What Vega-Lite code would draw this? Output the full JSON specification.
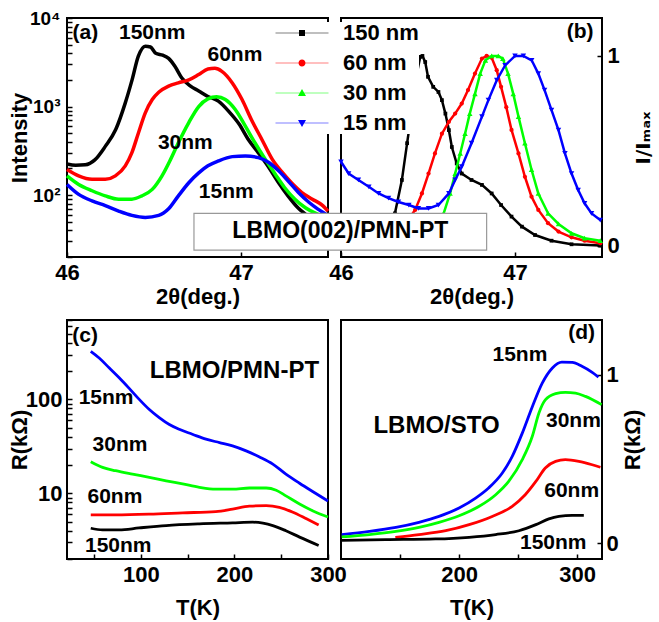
{
  "$schema": "https://vega.github.io/schema/vega-lite/v6.json",
  "background": "white",
  "autosize": {"type": "pad"},
  "padding": {"left": 7, "top": 8, "right": 0, "bottom": 2},
  "datasets": {
    "a": [
      {"s":"150 nm","x":46.0,"y":225},{"s":"150 nm","x":46.05,"y":218},{"s":"150 nm","x":46.105,"y":220},{"s":"150 nm","x":46.16,"y":250},{"s":"150 nm","x":46.22,"y":355},{"s":"150 nm","x":46.28,"y":550},{"s":"150 nm","x":46.335,"y":1100},{"s":"150 nm","x":46.374,"y":2000},{"s":"150 nm","x":46.41,"y":3700},{"s":"150 nm","x":46.45,"y":4800},{"s":"150 nm","x":46.48,"y":4700},{"s":"150 nm","x":46.51,"y":4000},{"s":"150 nm","x":46.55,"y":3800},{"s":"150 nm","x":46.584,"y":3500},{"s":"150 nm","x":46.62,"y":2850},{"s":"150 nm","x":46.66,"y":2100},{"s":"150 nm","x":46.71,"y":1700},{"s":"150 nm","x":46.757,"y":1500},{"s":"150 nm","x":46.81,"y":1300},{"s":"150 nm","x":46.87,"y":1150},{"s":"150 nm","x":46.93,"y":880},{"s":"150 nm","x":46.99,"y":630},{"s":"150 nm","x":47.04,"y":430},{"s":"150 nm","x":47.1,"y":300},{"s":"150 nm","x":47.16,"y":205},{"s":"150 nm","x":47.216,"y":138},{"s":"150 nm","x":47.27,"y":98},{"s":"150 nm","x":47.33,"y":71},{"s":"150 nm","x":47.37,"y":61},{"s":"150 nm","x":47.43,"y":49},{"s":"150 nm","x":47.5,"y":38},
      {"s":"60 nm","x":46.0,"y":195},{"s":"60 nm","x":46.067,"y":165},{"s":"60 nm","x":46.144,"y":151},{"s":"60 nm","x":46.22,"y":151},{"s":"60 nm","x":46.278,"y":165},{"s":"60 nm","x":46.335,"y":214},{"s":"60 nm","x":46.373,"y":302},{"s":"60 nm","x":46.41,"y":500},{"s":"60 nm","x":46.45,"y":850},{"s":"60 nm","x":46.49,"y":1200},{"s":"60 nm","x":46.527,"y":1450},{"s":"60 nm","x":46.584,"y":1700},{"s":"60 nm","x":46.64,"y":1850},{"s":"60 nm","x":46.7,"y":2000},{"s":"60 nm","x":46.757,"y":2300},{"s":"60 nm","x":46.81,"y":2650},{"s":"60 nm","x":46.85,"y":2700},{"s":"60 nm","x":46.89,"y":2500},{"s":"60 nm","x":46.95,"y":1850},{"s":"60 nm","x":47.006,"y":1200},{"s":"60 nm","x":47.06,"y":710},{"s":"60 nm","x":47.12,"y":425},{"s":"60 nm","x":47.18,"y":253},{"s":"60 nm","x":47.24,"y":178},{"s":"60 nm","x":47.29,"y":138},{"s":"60 nm","x":47.35,"y":107},{"s":"60 nm","x":47.41,"y":90},{"s":"60 nm","x":47.47,"y":76},{"s":"60 nm","x":47.5,"y":66},
      {"s":"30 nm","x":46.0,"y":165},{"s":"30 nm","x":46.067,"y":132},{"s":"30 nm","x":46.144,"y":112},{"s":"30 nm","x":46.22,"y":98},{"s":"30 nm","x":46.297,"y":90},{"s":"30 nm","x":46.373,"y":90},{"s":"30 nm","x":46.43,"y":98},{"s":"30 nm","x":46.49,"y":116},{"s":"30 nm","x":46.546,"y":165},{"s":"30 nm","x":46.594,"y":250},{"s":"30 nm","x":46.64,"y":390},{"s":"30 nm","x":46.7,"y":660},{"s":"30 nm","x":46.757,"y":1000},{"s":"30 nm","x":46.81,"y":1220},{"s":"30 nm","x":46.86,"y":1290},{"s":"30 nm","x":46.91,"y":1200},{"s":"30 nm","x":46.967,"y":925},{"s":"30 nm","x":47.025,"y":600},{"s":"30 nm","x":47.08,"y":390},{"s":"30 nm","x":47.14,"y":253},{"s":"30 nm","x":47.197,"y":172},{"s":"30 nm","x":47.25,"y":122},{"s":"30 nm","x":47.31,"y":90},{"s":"30 nm","x":47.37,"y":72},{"s":"30 nm","x":47.44,"y":61},{"s":"30 nm","x":47.5,"y":54},
      {"s":"15 nm","x":46.0,"y":132},{"s":"15 nm","x":46.067,"y":102},{"s":"15 nm","x":46.144,"y":86},{"s":"15 nm","x":46.22,"y":76},{"s":"15 nm","x":46.297,"y":66},{"s":"15 nm","x":46.373,"y":59},{"s":"15 nm","x":46.45,"y":56},{"s":"15 nm","x":46.527,"y":59},{"s":"15 nm","x":46.584,"y":70},{"s":"15 nm","x":46.64,"y":98},{"s":"15 nm","x":46.7,"y":138},{"s":"15 nm","x":46.757,"y":178},{"s":"15 nm","x":46.81,"y":214},{"s":"15 nm","x":46.87,"y":243},{"s":"15 nm","x":46.95,"y":272},{"s":"15 nm","x":47.025,"y":277},{"s":"15 nm","x":47.1,"y":265},{"s":"15 nm","x":47.16,"y":233},{"s":"15 nm","x":47.216,"y":188},{"s":"15 nm","x":47.27,"y":145},{"s":"15 nm","x":47.33,"y":107},{"s":"15 nm","x":47.39,"y":83},{"s":"15 nm","x":47.44,"y":70},{"s":"15 nm","x":47.5,"y":59}
    ],
    "b": [
      {"s":"150 nm","x":46.0,"y":0.03},{"s":"150 nm","x":46.2,"y":0.04},{"s":"150 nm","x":46.27,"y":0.09},{"s":"150 nm","x":46.31,"y":0.17},{"s":"150 nm","x":46.35,"y":0.346},{"s":"150 nm","x":46.38,"y":0.54},{"s":"150 nm","x":46.41,"y":0.73},{"s":"150 nm","x":46.436,"y":0.907},{"s":"150 nm","x":46.455,"y":0.995},{"s":"150 nm","x":46.468,"y":1.0},{"s":"150 nm","x":46.484,"y":0.968},{"s":"150 nm","x":46.5,"y":0.89},{"s":"150 nm","x":46.53,"y":0.837},{"s":"150 nm","x":46.56,"y":0.81},{"s":"150 nm","x":46.58,"y":0.767},{"s":"150 nm","x":46.6,"y":0.696},{"s":"150 nm","x":46.62,"y":0.609},{"s":"150 nm","x":46.637,"y":0.52},{"s":"150 nm","x":46.665,"y":0.433},{"s":"150 nm","x":46.694,"y":0.38},{"s":"150 nm","x":46.75,"y":0.346},{"s":"150 nm","x":46.81,"y":0.32},{"s":"150 nm","x":46.866,"y":0.275},{"s":"150 nm","x":46.92,"y":0.214},{"s":"150 nm","x":46.98,"y":0.153},{"s":"150 nm","x":47.04,"y":0.1},{"s":"150 nm","x":47.115,"y":0.056},{"s":"150 nm","x":47.21,"y":0.026},{"s":"150 nm","x":47.325,"y":0.007},{"s":"150 nm","x":47.49,"y":0.0},
      {"s":"60 nm","x":46.0,"y":0.06},{"s":"60 nm","x":46.2,"y":0.05},{"s":"60 nm","x":46.35,"y":0.09},{"s":"60 nm","x":46.426,"y":0.188},{"s":"60 nm","x":46.465,"y":0.275},{"s":"60 nm","x":46.503,"y":0.38},{"s":"60 nm","x":46.54,"y":0.486},{"s":"60 nm","x":46.58,"y":0.59},{"s":"60 nm","x":46.62,"y":0.653},{"s":"60 nm","x":46.656,"y":0.696},{"s":"60 nm","x":46.694,"y":0.749},{"s":"60 nm","x":46.73,"y":0.82},{"s":"60 nm","x":46.77,"y":0.907},{"s":"60 nm","x":46.81,"y":0.986},{"s":"60 nm","x":46.837,"y":1.0},{"s":"60 nm","x":46.866,"y":0.99},{"s":"60 nm","x":46.895,"y":0.925},{"s":"60 nm","x":46.92,"y":0.837},{"s":"60 nm","x":46.95,"y":0.73},{"s":"60 nm","x":46.98,"y":0.61},{"s":"60 nm","x":47.02,"y":0.486},{"s":"60 nm","x":47.057,"y":0.363},{"s":"60 nm","x":47.095,"y":0.258},{"s":"60 nm","x":47.134,"y":0.188},{"s":"60 nm","x":47.19,"y":0.118},{"s":"60 nm","x":47.25,"y":0.074},{"s":"60 nm","x":47.325,"y":0.044},{"s":"60 nm","x":47.4,"y":0.026},{"s":"60 nm","x":47.49,"y":0.012},
      {"s":"30 nm","x":46.0,"y":0.05},{"s":"30 nm","x":46.3,"y":0.03},{"s":"30 nm","x":46.5,"y":0.07},{"s":"30 nm","x":46.59,"y":0.17},{"s":"30 nm","x":46.627,"y":0.275},{"s":"30 nm","x":46.656,"y":0.38},{"s":"30 nm","x":46.685,"y":0.486},{"s":"30 nm","x":46.713,"y":0.59},{"s":"30 nm","x":46.74,"y":0.696},{"s":"30 nm","x":46.77,"y":0.8},{"s":"30 nm","x":46.8,"y":0.907},{"s":"30 nm","x":46.83,"y":0.977},{"s":"30 nm","x":46.866,"y":1.0},{"s":"30 nm","x":46.904,"y":1.0},{"s":"30 nm","x":46.93,"y":0.986},{"s":"30 nm","x":46.96,"y":0.907},{"s":"30 nm","x":46.99,"y":0.8},{"s":"30 nm","x":47.02,"y":0.68},{"s":"30 nm","x":47.057,"y":0.54},{"s":"30 nm","x":47.095,"y":0.4},{"s":"30 nm","x":47.134,"y":0.275},{"s":"30 nm","x":47.19,"y":0.17},{"s":"30 nm","x":47.25,"y":0.114},{"s":"30 nm","x":47.325,"y":0.065},{"s":"30 nm","x":47.4,"y":0.039},{"s":"30 nm","x":47.49,"y":0.026},
      {"s":"15 nm","x":46.0,"y":0.442},{"s":"15 nm","x":46.044,"y":0.38},{"s":"15 nm","x":46.1,"y":0.346},{"s":"15 nm","x":46.16,"y":0.31},{"s":"15 nm","x":46.216,"y":0.275},{"s":"15 nm","x":46.273,"y":0.25},{"s":"15 nm","x":46.33,"y":0.23},{"s":"15 nm","x":46.39,"y":0.214},{"s":"15 nm","x":46.445,"y":0.196},{"s":"15 nm","x":46.503,"y":0.196},{"s":"15 nm","x":46.56,"y":0.214},{"s":"15 nm","x":46.62,"y":0.275},{"s":"15 nm","x":46.656,"y":0.346},{"s":"15 nm","x":46.694,"y":0.416},{"s":"15 nm","x":46.75,"y":0.54},{"s":"15 nm","x":46.81,"y":0.68},{"s":"15 nm","x":46.847,"y":0.767},{"s":"15 nm","x":46.895,"y":0.872},{"s":"15 nm","x":46.943,"y":0.95},{"s":"15 nm","x":47.0,"y":1.0},{"s":"15 nm","x":47.048,"y":1.0},{"s":"15 nm","x":47.096,"y":0.977},{"s":"15 nm","x":47.134,"y":0.907},{"s":"15 nm","x":47.17,"y":0.82},{"s":"15 nm","x":47.21,"y":0.714},{"s":"15 nm","x":47.25,"y":0.609},{"s":"15 nm","x":47.287,"y":0.486},{"s":"15 nm","x":47.325,"y":0.38},{"s":"15 nm","x":47.363,"y":0.293},{"s":"15 nm","x":47.4,"y":0.223},{"s":"15 nm","x":47.44,"y":0.17},{"s":"15 nm","x":47.49,"y":0.135}
    ],
    "c": [
      {"s":"15 nm","x":46.4,"y":325},{"s":"15 nm","x":55.4,"y":276},{"s":"15 nm","x":66,"y":217},{"s":"15 nm","x":76.8,"y":170},{"s":"15 nm","x":87.5,"y":131},{"s":"15 nm","x":98.2,"y":100},{"s":"15 nm","x":109,"y":78},{"s":"15 nm","x":119.6,"y":64},{"s":"15 nm","x":130.4,"y":54},{"s":"15 nm","x":141,"y":48},{"s":"15 nm","x":155,"y":42.6},{"s":"15 nm","x":169.6,"y":37.7},{"s":"15 nm","x":184,"y":34.7},{"s":"15 nm","x":198,"y":32},{"s":"15 nm","x":212.5,"y":28.3},{"s":"15 nm","x":226.8,"y":24.4},{"s":"15 nm","x":241,"y":20.5},{"s":"15 nm","x":255,"y":16},{"s":"15 nm","x":269.6,"y":12.8},{"s":"15 nm","x":284,"y":10.4},{"s":"15 nm","x":300,"y":8.3},
      {"s":"30 nm","x":46.4,"y":21.7},{"s":"30 nm","x":59,"y":18.9},{"s":"30 nm","x":73,"y":17.4},{"s":"30 nm","x":91,"y":16},{"s":"30 nm","x":109,"y":14.8},{"s":"30 nm","x":127,"y":13.6},{"s":"30 nm","x":144.6,"y":12.6},{"s":"30 nm","x":162.5,"y":11.6},{"s":"30 nm","x":180,"y":11.1},{"s":"30 nm","x":198,"y":11.1},{"s":"30 nm","x":216,"y":11.4},{"s":"30 nm","x":234,"y":11.4},{"s":"30 nm","x":244.6,"y":10.8},{"s":"30 nm","x":255,"y":9.4},{"s":"30 nm","x":269.6,"y":7.7},{"s":"30 nm","x":284,"y":6.5},{"s":"30 nm","x":300,"y":5.6},
      {"s":"60 nm","x":46.4,"y":5.9},{"s":"60 nm","x":73,"y":5.9},{"s":"60 nm","x":109,"y":6.0},{"s":"60 nm","x":144.6,"y":6.2},{"s":"60 nm","x":180,"y":6.4},{"s":"60 nm","x":198,"y":6.8},{"s":"60 nm","x":216,"y":7.3},{"s":"60 nm","x":234,"y":7.4},{"s":"60 nm","x":248,"y":7.1},{"s":"60 nm","x":262.5,"y":6.3},{"s":"60 nm","x":277,"y":5.35},{"s":"60 nm","x":290,"y":4.6},
      {"s":"150 nm","x":46.4,"y":4.25},{"s":"150 nm","x":59,"y":4.08},{"s":"150 nm","x":76.8,"y":4.08},{"s":"150 nm","x":98,"y":4.28},{"s":"150 nm","x":127,"y":4.54},{"s":"150 nm","x":162.5,"y":4.73},{"s":"150 nm","x":198,"y":4.85},{"s":"150 nm","x":219.6,"y":4.93},{"s":"150 nm","x":241,"y":4.54},{"s":"150 nm","x":255,"y":4.0},{"s":"150 nm","x":269.6,"y":3.42},{"s":"150 nm","x":290,"y":2.79}
    ],
    "d": [
      {"s":"15 nm","x":100.6,"y":0.05},{"s":"15 nm","x":124,"y":0.069},{"s":"15 nm","x":146.5,"y":0.093},{"s":"15 nm","x":166,"y":0.123},{"s":"15 nm","x":183,"y":0.158},{"s":"15 nm","x":200,"y":0.208},{"s":"15 nm","x":214,"y":0.267},{"s":"15 nm","x":225,"y":0.327},{"s":"15 nm","x":236.6,"y":0.416},{"s":"15 nm","x":245,"y":0.515},{"s":"15 nm","x":253.5,"y":0.653},{"s":"15 nm","x":262,"y":0.81},{"s":"15 nm","x":270.4,"y":0.95},{"s":"15 nm","x":279,"y":1.04},{"s":"15 nm","x":287,"y":1.075},{"s":"15 nm","x":295.8,"y":1.073},{"s":"15 nm","x":304,"y":1.05},{"s":"15 nm","x":312.7,"y":1.014},{"s":"15 nm","x":318,"y":0.986},
      {"s":"30 nm","x":100.6,"y":0.036},{"s":"30 nm","x":124,"y":0.05},{"s":"30 nm","x":146.5,"y":0.069},{"s":"30 nm","x":166,"y":0.093},{"s":"30 nm","x":183,"y":0.123},{"s":"30 nm","x":200,"y":0.162},{"s":"30 nm","x":217,"y":0.218},{"s":"30 nm","x":231,"y":0.287},{"s":"30 nm","x":242,"y":0.366},{"s":"30 nm","x":253.5,"y":0.495},{"s":"30 nm","x":262,"y":0.634},{"s":"30 nm","x":267.6,"y":0.772},{"s":"30 nm","x":273,"y":0.85},{"s":"30 nm","x":281.7,"y":0.887},{"s":"30 nm","x":290,"y":0.895},{"s":"30 nm","x":298.6,"y":0.891},{"s":"30 nm","x":307,"y":0.871},{"s":"30 nm","x":320.6,"y":0.822},
      {"s":"60 nm","x":146,"y":0.034},{"s":"60 nm","x":166,"y":0.05},{"s":"60 nm","x":188.7,"y":0.073},{"s":"60 nm","x":208.5,"y":0.109},{"s":"60 nm","x":228,"y":0.158},{"s":"60 nm","x":245,"y":0.218},{"s":"60 nm","x":256,"y":0.287},{"s":"60 nm","x":265,"y":0.366},{"s":"60 nm","x":273,"y":0.446},{"s":"60 nm","x":281.7,"y":0.485},{"s":"60 nm","x":290,"y":0.495},{"s":"60 nm","x":301.4,"y":0.485},{"s":"60 nm","x":312.7,"y":0.465},{"s":"60 nm","x":319.7,"y":0.45},
      {"s":"150 nm","x":100.6,"y":0.016},{"s":"150 nm","x":138,"y":0.02},{"s":"150 nm","x":180,"y":0.024},{"s":"150 nm","x":208.5,"y":0.034},{"s":"150 nm","x":231,"y":0.05},{"s":"150 nm","x":250.7,"y":0.073},{"s":"150 nm","x":265,"y":0.109},{"s":"150 nm","x":276,"y":0.143},{"s":"150 nm","x":284.5,"y":0.158},{"s":"150 nm","x":295.8,"y":0.164},{"s":"150 nm","x":305.6,"y":0.164}
    ],
    "labA": [
      {"text":"(a)","x":46.106,"y":6750},{"text":"150nm","x":46.49,"y":6750},{"text":"60nm","x":46.965,"y":3840},{"text":"30nm","x":46.68,"y":384},{"text":"15nm","x":46.915,"y":108}
    ],
    "labB": [{"text":"(b)","x":47.374,"y":1.128}],
    "labC": [
      {"text":"(c)","x":40.3,"y":470},{"text":"15nm","x":62.8,"y":104},{"text":"30nm","x":77.6,"y":32.7},{"text":"60nm","x":72.2,"y":9.07},{"text":"150nm","x":75.8,"y":2.78}
    ],
    "labD": [
      {"text":"(d)","x":303.8,"y":1.248},{"text":"15nm","x":251.5,"y":1.119},{"text":"30nm","x":296.8,"y":0.723},{"text":"60nm","x":295.3,"y":0.307},{"text":"150nm","x":279.7,"y":0.0}
    ]
  },
  "columns": 2,
  "spacing": {"row": 63, "column": 13},
  "bounds": "flush",
  "concat": [
    {
      "width": 261, "height": 239,
      "layer": [
        {
          "data": {"name": "a"},
          "mark": {"type": "line", "strokeWidth": 3.5, "interpolate": "monotone"},
          "encoding": {
            "x": {"field": "x", "type": "quantitative", "scale": {"domain": [46, 47.5], "nice": false, "zero": false},
                  "axis": {"title": "2θ(deg.)", "values": [46, 46.5, 47], "format": "d", "labelExpr": "datum.value == 46.5 ? '' : datum.label", "labelFlush": false, "labelOverlap": false, "labelBound": false, "labelPadding": 10, "titlePadding": 3}},
            "y": {"field": "y", "type": "quantitative", "scale": {"type": "log", "domain": [20, 10000], "nice": false},
                  "axis": {"title": "Intensity", "values": [20,30,40,50,60,70,80,90,100,200,300,400,500,600,700,800,900,1000,2000,3000,4000,5000,6000,7000,8000,9000,10000],
                           "labelExpr": "datum.value == 100 ? '10²' : datum.value == 1000 ? '10³' : datum.value == 10000 ? '10⁴' : ''", "labelFontSize": 19, "labelOverlap": false, "labelPadding": 12, "titlePadding": -2}},
            "stroke": {"field": "s", "type": "nominal", "scale": {"domain": ["15 nm", "30 nm", "60 nm", "150 nm"], "range": ["#0000ff", "#00ff00", "#ff0000", "#000000"]}, "legend": null}
          }
        },
        {
          "data": {"name": "a"},
          "transform": [{"filter": "datum.y < 0"}],
          "mark": {"type": "point", "filled": true, "opacity": 1},
          "encoding": {
            "color": {"field": "s", "type": "nominal", "scale": {"domain": ["150 nm", "60 nm", "30 nm", "15 nm"], "range": ["#000000", "#ff0000", "#00ff00", "#0000ff"]},
                      "legend": {"orient": "none", "legendX": 224, "legendY": 4, "title": null, "fillColor": "white", "padding": 0, "labelFontSize": 22, "labelFontWeight": "bold", "labelColor": "black", "labelOffset": 30, "symbolSize": 100, "symbolStrokeWidth": 0, "rowPadding": 8}},
            "shape": {"field": "s", "type": "nominal", "scale": {"domain": ["150 nm", "60 nm", "30 nm", "15 nm"], "range": [
                "M-5.3,-0.07H5.3V0.07H-5.3Z M-0.6,-0.6H0.6V0.6H-0.6Z",
                "M-5.3,-0.07H5.3V0.07H-5.3Z M-0.7,0A0.7,0.7,0,1,1,0.7,0A0.7,0.7,0,1,1,-0.7,0Z",
                "M-5.3,-0.07H5.3V0.07H-5.3Z M0,-0.8L0.8,0.6L-0.8,0.6Z",
                "M-5.3,-0.07H5.3V0.07H-5.3Z M0,0.8L-0.8,-0.6L0.8,-0.6Z"]},
                      "legend": {"orient": "none", "legendX": 224, "legendY": 4, "title": null, "fillColor": "white", "padding": 0, "labelFontSize": 22, "labelFontWeight": "bold", "labelColor": "black", "labelOffset": 30, "symbolSize": 100, "symbolStrokeWidth": 0, "rowPadding": 8}}
          }
        },
        {
          "data": {"name": "labA"},
          "mark": {"type": "text", "fontSize": 21, "fontWeight": "bold", "align": "center", "baseline": "middle"},
          "encoding": {
            "x": {"field": "x", "type": "quantitative"},
            "y": {"field": "y", "type": "quantitative"},
            "text": {"field": "text"}
          }
        }
      ]
    },
    {
      "width": 261, "height": 239,
      "layer": [
        {
          "data": {"name": "b"},
          "transform": [{"filter": "datum.s == '150 nm'"}],
          "mark": {"type": "line", "strokeWidth": 2.5, "color": "#000000", "point": {"filled": true, "shape": "square", "size": 14, "color": "#000000"}},
          "encoding": {
            "x": {"field": "x", "type": "quantitative", "scale": {"domain": [46, 47.5], "nice": false, "zero": false},
                  "axis": {"title": "2θ(deg.)", "values": [46, 46.5, 47], "format": "d", "labelExpr": "datum.value == 46.5 ? '' : datum.label", "labelFlush": false, "labelOverlap": false, "labelBound": false, "labelPadding": 10, "titlePadding": 3}},
            "y": {"field": "y", "type": "quantitative", "scale": {"domain": [-0.06, 1.2], "nice": false, "zero": false},
                  "axis": {"orient": "right", "title": "I/Iₘₐₓ", "titleFont": "DejaVu Sans", "titleFontSize": 20, "titleAngle": 270, "titleBaseline": "top", "values": [0, 0.5, 1], "format": "d", "labelExpr": "datum.value == 0.5 ? '' : datum.label", "labelOverlap": false, "labelPadding": 10, "titlePadding": 14}}
          }
        },
        {
          "data": {"name": "b"},
          "transform": [{"filter": "datum.s == '60 nm'"}],
          "mark": {"type": "line", "strokeWidth": 2.5, "color": "#ff0000", "point": {"filled": true, "shape": "circle", "size": 18, "color": "#ff0000"}},
          "encoding": {
            "x": {"field": "x", "type": "quantitative"},
            "y": {"field": "y", "type": "quantitative"}
          }
        },
        {
          "data": {"name": "b"},
          "transform": [{"filter": "datum.s == '30 nm'"}],
          "mark": {"type": "line", "strokeWidth": 2.5, "color": "#00ff00", "point": {"filled": true, "shape": "triangle-up", "size": 30, "color": "#00ff00"}},
          "encoding": {
            "x": {"field": "x", "type": "quantitative"},
            "y": {"field": "y", "type": "quantitative"}
          }
        },
        {
          "data": {"name": "b"},
          "transform": [{"filter": "datum.s == '15 nm'"}],
          "mark": {"type": "line", "strokeWidth": 2.5, "color": "#0000ff", "point": {"filled": true, "shape": "triangle-down", "size": 30, "color": "#0000ff"}},
          "encoding": {
            "x": {"field": "x", "type": "quantitative"},
            "y": {"field": "y", "type": "quantitative"}
          }
        },
        {
          "data": {"name": "labB"},
          "mark": {"type": "text", "fontSize": 21, "fontWeight": "bold", "align": "center", "baseline": "middle"},
          "encoding": {
            "x": {"field": "x", "type": "quantitative"},
            "y": {"field": "y", "type": "quantitative"},
            "text": {"field": "text"}
          }
        },
        {
          "data": {"values": [{}]},
          "mark": {"type": "rect", "fill": "white", "stroke": "#999999", "strokeWidth": 1.2},
          "encoding": {
            "x": {"datum": 45.155, "type": "quantitative"},
            "x2": {"datum": 46.837},
            "y": {"datum": -0.024, "type": "quantitative"},
            "y2": {"datum": 0.17}
          }
        },
        {
          "data": {"values": [{}]},
          "mark": {"type": "text", "text": "LBMO(002)/PMN-PT", "fontSize": 23, "fontWeight": "bold", "align": "center", "baseline": "middle"},
          "encoding": {
            "x": {"datum": 45.996, "type": "quantitative"},
            "y": {"datum": 0.075, "type": "quantitative"}
          }
        }
      ]
    },
    {
      "width": 261, "height": 239,
      "layer": [
        {
          "data": {"name": "c"},
          "mark": {"type": "line", "strokeWidth": 2.8, "interpolate": "monotone"},
          "encoding": {
            "x": {"field": "x", "type": "quantitative", "scale": {"domain": [21, 300], "nice": false, "zero": false},
                  "axis": {"title": "T(K)", "values": [50, 100, 150, 200, 250, 300], "format": "d", "labelExpr": "datum.value % 100 == 0 ? datum.label : ''", "labelFlush": false, "labelOverlap": false, "labelPadding": 10, "titlePadding": 12}},
            "y": {"field": "y", "type": "quantitative", "scale": {"type": "log", "domain": [2, 700], "nice": false},
                  "axis": {"title": "R(kΩ)", "values": [2,3,4,5,6,7,8,9,10,20,30,40,50,60,70,80,90,100,200,300,400,500,600,700], "format": "d",
                           "labelExpr": "datum.value == 10 || datum.value == 100 ? datum.label : ''", "labelOverlap": false, "labelPadding": 10, "titlePadding": -6}},
            "stroke": {"field": "s", "type": "nominal", "scale": {"domain": ["15 nm", "30 nm", "60 nm", "150 nm"], "range": ["#0000ff", "#00ff00", "#ff0000", "#000000"]}, "legend": null}
          }
        },
        {
          "data": {"name": "labC"},
          "mark": {"type": "text", "fontSize": 21, "fontWeight": "bold", "align": "center", "baseline": "middle"},
          "encoding": {
            "x": {"field": "x", "type": "quantitative"},
            "y": {"field": "y", "type": "quantitative"},
            "text": {"field": "text"}
          }
        },
        {
          "data": {"values": [{}]},
          "mark": {"type": "text", "text": "LBMO/PMN-PT", "fontSize": 24, "fontWeight": "bold", "align": "center", "baseline": "middle"},
          "encoding": {
            "x": {"datum": 200, "type": "quantitative"},
            "y": {"datum": 200, "type": "quantitative"}
          }
        }
      ]
    },
    {
      "width": 261, "height": 239,
      "layer": [
        {
          "data": {"name": "d"},
          "mark": {"type": "line", "strokeWidth": 2.8, "interpolate": "monotone"},
          "encoding": {
            "x": {"field": "x", "type": "quantitative", "scale": {"domain": [100, 321], "nice": false, "zero": false},
                  "axis": {"title": "T(K)", "values": [150, 200, 250, 300], "format": "d", "labelExpr": "datum.value % 100 == 0 ? datum.label : ''", "labelFlush": false, "labelOverlap": false, "labelPadding": 10, "titlePadding": 12}},
            "y": {"field": "y", "type": "quantitative", "scale": {"domain": [-0.095, 1.325], "nice": false, "zero": false},
                  "axis": {"orient": "right", "title": "R(kΩ)", "titleAngle": 270, "titleBaseline": "top", "values": [0, 0.5, 1], "format": "d", "labelExpr": "datum.value == 0.5 ? '' : datum.label", "labelOverlap": false, "labelPadding": 9, "titlePadding": 4}},
            "stroke": {"field": "s", "type": "nominal", "scale": {"domain": ["15 nm", "30 nm", "60 nm", "150 nm"], "range": ["#0000ff", "#00ff00", "#ff0000", "#000000"]}, "legend": null}
          }
        },
        {
          "data": {"name": "labD"},
          "mark": {"type": "text", "fontSize": 21, "fontWeight": "bold", "align": "center", "baseline": "middle"},
          "encoding": {
            "x": {"field": "x", "type": "quantitative"},
            "y": {"field": "y", "type": "quantitative"},
            "text": {"field": "text"}
          }
        },
        {
          "data": {"values": [{}]},
          "mark": {"type": "text", "text": "LBMO/STO", "fontSize": 24, "fontWeight": "bold", "align": "center", "baseline": "middle"},
          "encoding": {
            "x": {"datum": 180.9, "type": "quantitative"},
            "y": {"datum": 0.693, "type": "quantitative"}
          }
        }
      ]
    }
  ],
  "config": {
    "font": "Liberation Sans",
    "view": {"stroke": "black", "strokeWidth": 2},
    "axis": {"grid": false, "domain": false, "tickColor": "black", "tickWidth": 1.5, "tickSize": -5,
             "labelFont": "Liberation Sans", "labelFontSize": 22, "labelFontWeight": "bold", "labelColor": "black",
             "titleFont": "Liberation Sans", "titleFontSize": 22, "titleFontWeight": "bold", "titleColor": "black",
             "labelFlush": false, "labelOverlap": false},
    "text": {"font": "Liberation Sans", "color": "black"},
    "legend": {"labelFont": "Liberation Sans"}
  }
}
